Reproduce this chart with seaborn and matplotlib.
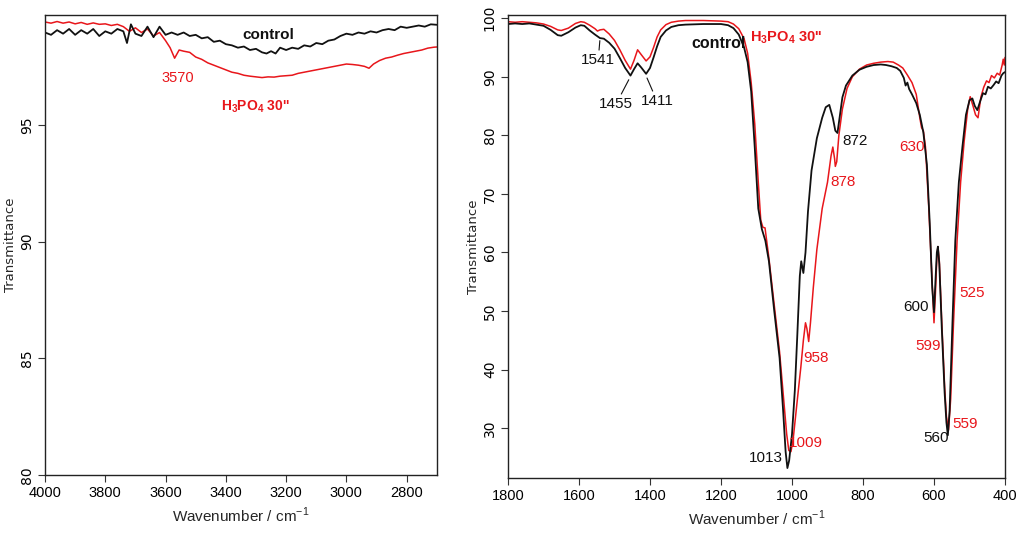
import numpy as np
import pandas as pd
import seaborn as sns
import matplotlib
matplotlib.use("Agg")
import matplotlib.pyplot as plt

# ---------------- data: left panel (4000-2700 cm-1) ----------------
left_ctrl_wn = [4000, 3980, 3960, 3940, 3920, 3900, 3880, 3860, 3840, 3820,
                3800, 3780, 3760, 3740, 3728, 3715, 3700, 3680, 3660, 3640,
                3620, 3600, 3580, 3560, 3540, 3520, 3500, 3480, 3460, 3440,
                3420, 3400, 3380, 3360, 3340, 3320, 3300, 3280, 3265, 3250,
                3235, 3220, 3200, 3180, 3160, 3140, 3120, 3100, 3080, 3060,
                3040, 3020, 3000, 2980, 2960, 2940, 2920, 2900, 2880, 2860,
                2840, 2820, 2800, 2780, 2760, 2740, 2720, 2700]
left_ctrl_T = [98.95, 98.85, 99.05, 98.9, 99.1, 98.85, 99.05, 98.9, 99.1, 98.8,
               99.0, 98.9, 99.1, 99.0, 98.5, 99.3, 98.9, 98.8, 99.2, 98.75,
               99.2, 98.85, 98.95, 98.85, 98.95, 98.8, 98.85, 98.7, 98.75, 98.55,
               98.6, 98.45, 98.4, 98.3, 98.35, 98.2, 98.25, 98.1, 98.05, 98.15,
               98.05, 98.3, 98.2, 98.3, 98.25, 98.4, 98.35, 98.5, 98.45, 98.6,
               98.65, 98.8, 98.9, 98.85, 98.95, 98.9, 99.0, 98.95, 99.05, 99.1,
               99.05, 99.2, 99.15, 99.2, 99.25, 99.2, 99.3, 99.28]

left_acid_wn = [4000, 3980, 3960, 3940, 3920, 3900, 3880, 3860, 3840, 3820,
                3800, 3780, 3760, 3740, 3720, 3700, 3680, 3660, 3640, 3620,
                3600, 3585, 3570, 3555, 3540, 3520, 3500, 3480, 3460, 3440,
                3420, 3400, 3380, 3360, 3340, 3320, 3300, 3280, 3260, 3240,
                3220, 3200, 3180, 3160, 3140, 3120, 3100, 3080, 3060, 3040,
                3020, 3000, 2980, 2960, 2940, 2925, 2910, 2890, 2870, 2850,
                2830, 2810, 2790, 2770, 2750, 2730, 2710, 2700]
left_acid_T = [99.4, 99.35, 99.42, 99.35, 99.4, 99.32, 99.38, 99.3, 99.36, 99.3,
               99.32, 99.25, 99.3, 99.2, 99.0, 99.15, 98.95, 99.1, 98.8, 98.95,
               98.6, 98.3, 97.85, 98.2, 98.15, 98.1, 97.9, 97.8, 97.65, 97.55,
               97.45, 97.35, 97.25, 97.2, 97.12, 97.08, 97.05, 97.02, 97.05, 97.04,
               97.08, 97.1, 97.12, 97.2, 97.25, 97.3, 97.35, 97.4, 97.45, 97.5,
               97.55, 97.6, 97.58, 97.55, 97.5, 97.42, 97.6, 97.75, 97.85, 97.9,
               97.98, 98.05, 98.1, 98.15, 98.2, 98.28, 98.32, 98.33]

# ---------------- data: right panel (1800-400 cm-1) ----------------
right_ctrl_wn = [1800, 1780, 1760, 1740, 1720, 1700, 1680, 1660, 1650, 1630,
                 1610, 1595, 1585, 1570, 1555, 1541, 1530, 1515, 1500, 1485,
                 1470, 1455, 1445, 1435, 1425, 1411, 1400, 1390, 1380, 1370,
                 1355, 1340, 1320, 1300, 1250, 1200, 1180, 1165, 1150, 1135,
                 1125, 1115, 1105, 1095, 1085, 1075, 1065, 1050, 1035, 1025,
                 1018, 1013, 1008, 1000, 992, 985, 978, 974, 968, 962,
                 955, 945, 930, 915, 905, 895, 885, 878, 872, 866,
                 858, 848, 830, 810, 790, 770, 750, 735, 720, 705,
                 695, 685, 680, 675, 670, 662, 650, 640, 630, 620,
                 612, 605, 600, 596, 592, 589, 585, 578, 570, 565,
                 561, 556, 548, 540, 530, 520, 510, 500, 492, 485,
                 478, 470, 462, 455, 448, 440, 432, 425, 418, 410,
                 405, 400]
right_ctrl_T = [99.0, 99.1, 99.0, 99.1, 98.9, 98.7, 98.0, 97.1, 97.0, 97.6,
                98.4, 98.8, 98.7, 97.9, 97.2, 96.6, 96.5, 95.8, 94.8, 93.2,
                91.5, 90.2, 91.3, 92.3, 91.6, 90.5, 91.5, 93.3, 95.2, 96.8,
                97.9, 98.5, 98.8, 98.9, 99.0, 99.0, 98.8, 98.3, 97.2, 95.0,
                92.5, 87.5, 78.0, 67.5, 64.0, 62.0, 58.5, 50.0, 42.0, 33.0,
                26.0, 23.2, 24.5, 29.0, 36.5, 46.0, 56.0, 58.5, 56.5, 60.0,
                67.0, 74.0, 79.5, 83.0, 84.8, 85.2, 83.0, 80.8, 80.4, 83.0,
                86.5, 88.5, 90.2, 91.2, 91.7, 92.0, 92.1, 92.0, 91.8, 91.5,
                91.0, 89.8, 88.5, 89.0, 87.9, 87.0, 85.5, 83.5, 80.5, 75.0,
                65.0, 54.0, 49.8, 55.0, 60.0, 61.0, 58.0, 47.0, 36.0, 31.0,
                28.8, 33.0, 48.0, 62.0, 72.0, 78.0, 83.5, 86.0, 86.3, 85.0,
                84.3, 85.8, 87.2, 87.0, 88.3, 88.0, 88.6, 89.2, 88.9, 90.2,
                90.6, 90.8]

right_acid_wn = [1800, 1780, 1760, 1740, 1720, 1700, 1680, 1660, 1650, 1630,
                 1610, 1595, 1585, 1570, 1555, 1548, 1541, 1530, 1515, 1500,
                 1485, 1470, 1455, 1445, 1435, 1425, 1411, 1400, 1390, 1380,
                 1370, 1355, 1340, 1320, 1300, 1250, 1200, 1180, 1165, 1150,
                 1135, 1125, 1115, 1105, 1095, 1088, 1082, 1076, 1065, 1050,
                 1035, 1025, 1015, 1009, 1003, 997, 990, 983, 975, 968,
                 962, 958, 953, 948, 940, 930, 915, 900, 890, 885,
                 880, 878, 874, 868, 858, 845, 830, 810, 790, 770,
                 750, 730, 715, 700, 688, 675, 662, 650, 640, 635,
                 630, 624, 615, 606, 600, 596, 592, 589, 585, 578,
                 570, 565, 559, 553, 545, 535, 525, 515, 505, 498,
                 490, 483, 476, 468, 460, 452, 445, 438, 430, 422,
                 415, 408, 405, 402, 400]
right_acid_T = [99.4, 99.3, 99.4, 99.3, 99.2, 99.0, 98.6, 98.0, 97.9, 98.3,
                99.1, 99.4, 99.3, 98.8, 98.2, 97.8, 98.0, 98.1, 97.3, 96.2,
                94.6, 92.8, 91.3, 92.8, 94.6, 93.8, 92.7, 93.4, 95.0, 96.8,
                98.0, 98.9, 99.3, 99.5, 99.6, 99.6, 99.5, 99.4, 99.0, 98.2,
                96.5, 94.0, 89.0, 82.0, 72.0, 65.5, 64.3, 64.2, 59.0, 51.0,
                43.0, 36.0, 29.0, 26.2, 26.0, 28.0, 32.0, 36.0, 40.5, 45.0,
                48.0, 47.0, 44.8, 48.0, 54.0, 60.5, 67.5, 72.0, 76.5, 78.0,
                76.0, 74.7, 75.5, 80.0, 84.5, 88.0, 90.0, 91.3, 92.0, 92.3,
                92.5, 92.6, 92.5, 92.0, 91.5, 90.3, 89.0, 87.0, 83.0, 81.3,
                80.8, 78.0, 68.0, 56.0, 48.0, 53.0, 59.0, 61.0, 58.5, 48.0,
                37.0, 32.0, 29.7, 35.0, 48.0, 62.0, 72.0, 79.0, 84.5, 86.6,
                85.0, 83.5, 83.0, 86.5, 88.2, 89.3, 89.0, 90.2, 89.8, 90.6,
                90.3, 92.0, 93.0, 92.0, 93.3]

xticks_left = [4000, 3800, 3600, 3400, 3200, 3000, 2800]
yticks_left = [80, 85, 90, 95]
xticks_right = [1800, 1600, 1400, 1200, 1000, 800, 600, 400]
yticks_right = [30, 40, 50, 60, 70, 80, 90, 100]

acid_label = r"$\mathbf{H_3PO_4}$ 30''"

# ---------------- styling ----------------
sns.set_style("ticks")
plt.rcParams["font.family"] = ["Liberation Sans", "DejaVu Sans"]
plt.rcParams["mathtext.fontset"] = "custom"
plt.rcParams["mathtext.bf"] = "Liberation Sans:bold"
plt.rcParams["mathtext.rm"] = "Liberation Sans"

RED = "#e8161b"
BLACK = "#111111"

fig = plt.figure(figsize=(10.23, 5.35), dpi=100)
axL = fig.add_axes([0.044, 0.112, 0.383, 0.860])
axR = fig.add_axes([0.4966, 0.1065, 0.4858, 0.865])


def draw(ax, wn_c, t_c, wn_a, t_a):
    dfc = pd.DataFrame({"wn": wn_c, "T": t_c})
    dfa = pd.DataFrame({"wn": wn_a, "T": t_a})
    sns.lineplot(data=dfa, x="wn", y="T", ax=ax, color=RED, lw=1.1,
                 sort=False, estimator=None)
    sns.lineplot(data=dfc, x="wn", y="T", ax=ax, color=BLACK, lw=1.3,
                 sort=False, estimator=None)


draw(axL, left_ctrl_wn, left_ctrl_T, left_acid_wn, left_acid_T)
draw(axR, right_ctrl_wn, right_ctrl_T, right_acid_wn, right_acid_T)

yfont = {"family": ["DejaVu Sans"], "size": 10}

for ax, xt, yt, xl, yl in [(axL, xticks_left, yticks_left, (4000, 2700), (80, 99.7)),
                           (axR, xticks_right, yticks_right, (1800, 400), (21.5, 100.5))]:
    ax.set_xlim(*xl)
    ax.set_ylim(*yl)
    ax.set_xticks(xt)
    ax.set_yticks(yt)
    ax.set_xticklabels([str(v) for v in xt], fontsize=10.5)
    ax.set_yticklabels([str(v) for v in yt], rotation=90, va="center",
                       fontdict=yfont)
    ax.tick_params(direction="out", length=5, width=0.8, colors="#333333",
                   labelcolor="black", pad=3)
    for s in ax.spines.values():
        s.set_visible(True)
        s.set_linewidth(1.0)
        s.set_color("#222222")
    ax.set_xlabel("Wavenumber / cm$^{-1}$", fontsize=11, labelpad=4)
    ax.set_ylabel("Transmittance", fontdict={"family": ["DejaVu Sans"], "size": 9.5},
                  labelpad=2)

# ---------------- annotations: left ----------------
axL.text(3260, 98.85, "control", fontsize=11, fontweight="bold", ha="center",
         va="center", color=BLACK)
axL.text(3559, 97.0, "3570", fontsize=10.5, ha="center", va="center", color=RED)
axL.text(3303, 95.75, acid_label, fontsize=10, fontweight="bold", ha="center",
         va="center", color=RED)

# ---------------- annotations: right ----------------
lbl = dict(fontsize=11, va="center", ha="center")
line_kw = dict(arrowprops=dict(arrowstyle="-", color=BLACK, lw=0.8,
                               shrinkA=0, shrinkB=1))
axR.annotate("1541", xy=(1541, 96.4), xytext=(1546, 92.8), color=BLACK,
             textcoords="data", **lbl, **line_kw)
axR.annotate("1455", xy=(1458, 89.7), xytext=(1496, 85.3), color=BLACK,
             textcoords="data", **lbl, **line_kw)
axR.annotate("1411", xy=(1410, 90.0), xytext=(1380, 85.8), color=BLACK,
             textcoords="data", **lbl, **line_kw)
axR.text(1208, 95.6, "control", fontsize=11.5, fontweight="bold", ha="center",
         va="center", color=BLACK)
axR.text(1118, 96.6, acid_label, fontsize=10.5, fontweight="bold", ha="left",
         va="center", color=RED)
axR.text(823, 79.0, "872", color=BLACK, **lbl)
axR.text(857, 72.0, "878", color=RED, **lbl)
axR.text(662, 78.0, "630", color=RED, **lbl)
axR.text(932, 42.0, "958", color=RED, **lbl)
axR.text(1073, 25.0, "1013", color=BLACK, **lbl)
axR.text(960, 27.5, "1009", color=RED, **lbl)
axR.text(650, 50.7, "600", color=BLACK, **lbl)
axR.text(617, 44.0, "599", color=RED, **lbl)
axR.text(493, 53.0, "525", color=RED, **lbl)
axR.text(595, 28.3, "560", color=BLACK, **lbl)
axR.text(513, 30.7, "559", color=RED, **lbl)

fig.savefig("out.png", dpi=100)
